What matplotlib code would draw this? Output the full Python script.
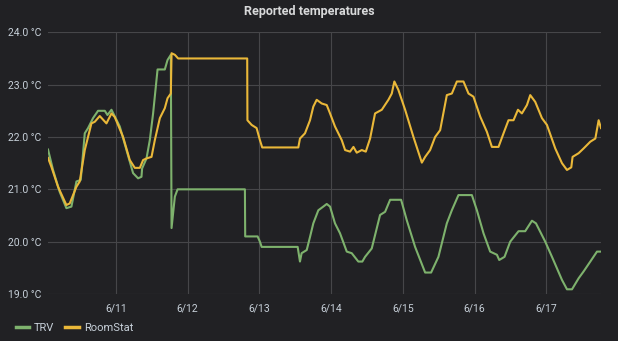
import numpy as np
import matplotlib
matplotlib.use('Agg')
import matplotlib.pyplot as plt

# time in days of June, temperatures in degC
trv_t = [10.056, 10.126, 10.219, 10.312, 10.382, 10.452, 10.512, 10.568, 10.614, 10.683,
         10.753, 10.847, 10.884, 10.940, 11.056, 11.149, 11.241, 11.311, 11.358, 11.367,
         11.428, 11.474, 11.520, 11.582, 11.683, 11.721, 11.767, 11.777, 11.823, 11.861,
         12.799, 12.803, 12.976, 13.008, 13.032, 13.534, 13.566, 13.589, 13.660, 13.706,
         13.752, 13.822, 13.891, 13.939, 13.985, 14.054, 14.124, 14.218, 14.287, 14.379,
         14.435, 14.473, 14.566, 14.682, 14.752, 14.822, 14.975, 15.054, 15.170, 15.310,
         15.393, 15.495, 15.612, 15.682, 15.774, 15.961, 16.031, 16.123, 16.216, 16.310,
         16.342, 16.416, 16.495, 16.611, 16.704, 16.798, 16.854, 16.983, 17.077, 17.216,
         17.286, 17.356, 17.448, 17.517, 17.611, 17.704, 17.760]
trv_v = [21.76, 21.37, 20.95, 20.64, 20.67, 21.15, 21.18, 22.07, 22.17, 22.36,
         22.50, 22.50, 22.42, 22.52, 22.20, 21.75, 21.31, 21.21, 21.24, 21.40,
         21.59, 21.94, 22.45, 23.29, 23.29, 23.47, 23.57, 20.26, 20.86, 21.0,
         21.0, 20.1, 20.1, 20.0, 19.9, 19.9, 19.62, 19.78, 19.84, 20.09,
         20.35, 20.60, 20.67, 20.72, 20.67, 20.35, 20.16, 19.81, 19.78, 19.62,
         19.62, 19.71, 19.87, 20.51, 20.57, 20.80, 20.80, 20.41, 19.90, 19.41,
         19.41, 19.71, 20.35, 20.60, 20.89, 20.89, 20.60, 20.16, 19.81, 19.75,
         19.65, 19.71, 20.0, 20.20, 20.20, 20.40, 20.35, 20.0, 19.71, 19.27,
         19.09, 19.09, 19.30, 19.43, 19.62, 19.81, 19.81]

room_t = [10.056, 10.103, 10.195, 10.312, 10.358, 10.452, 10.498, 10.568, 10.661, 10.707,
          10.777, 10.870, 10.940, 10.986, 11.102, 11.195, 11.265, 11.335, 11.381, 11.428,
          11.498, 11.544, 11.614, 11.683, 11.721, 11.767, 11.777, 11.823, 11.869, 12.831,
          12.834, 12.893, 12.962, 13.008, 13.040, 13.543, 13.566, 13.636, 13.706, 13.752,
          13.799, 13.869, 13.939, 13.985, 14.054, 14.148, 14.195, 14.264, 14.311, 14.357,
          14.427, 14.483, 14.543, 14.612, 14.706, 14.798, 14.845, 14.881, 14.937, 15.031,
          15.147, 15.264, 15.310, 15.379, 15.449, 15.519, 15.612, 15.682, 15.752, 15.844,
          15.914, 15.983, 16.077, 16.170, 16.240, 16.332, 16.402, 16.471, 16.541, 16.603,
          16.658, 16.728, 16.774, 16.844, 16.937, 17.007, 17.123, 17.216, 17.286, 17.346,
          17.364, 17.448, 17.517, 17.611, 17.681, 17.727, 17.760]
room_v = [21.6, 21.43, 21.05, 20.70, 20.73, 21.05, 21.15, 21.75, 22.26, 22.29,
          22.40, 22.26, 22.45, 22.38, 22.0, 21.56, 21.41, 21.41, 21.56, 21.59,
          21.62, 21.94, 22.36, 22.55, 22.74, 22.83, 23.60, 23.57, 23.50, 23.50,
          22.32, 22.23, 22.17, 21.94, 21.80, 21.80, 21.97, 22.07, 22.32, 22.58,
          22.71, 22.64, 22.61, 22.45, 22.20, 21.94, 21.75, 21.72, 21.81, 21.70,
          21.75, 21.72, 21.97, 22.45, 22.52, 22.71, 22.83, 23.06, 22.90, 22.52,
          22.0, 21.51, 21.62, 21.75, 22.0, 22.13, 22.80, 22.83, 23.06, 23.06,
          22.83, 22.77, 22.39, 22.10, 21.81, 21.81, 22.07, 22.32, 22.32, 22.52,
          22.45, 22.61, 22.80, 22.67, 22.36, 22.23, 21.78, 21.50, 21.37, 21.42,
          21.62, 21.69, 21.78, 21.91, 21.97, 22.32, 22.17]

day_ticks = [11, 12, 13, 14, 15, 16, 17]
day_labels = ['6/11', '6/12', '6/13', '6/14', '6/15', '6/16', '6/17']
temp_ticks = [19, 20, 21, 22, 23, 24]

bg = '#212124'
txt = '#c7d0d9'
plt.rcParams['font.family'] = ['Roboto', 'DejaVu Sans']

fig = plt.figure(figsize=(6.18, 3.41), dpi=100, facecolor=bg)
ax = fig.add_axes([0.0777, 0.1378, 0.8948, 0.7675], facecolor=bg)

ax.plot(trv_t, trv_v, color='#7eb26d', lw=1.5, label='TRV')
ax.plot(room_t, room_v, color='#eab839', lw=1.5, label='RoomStat')

ax.set_xlim(10.056, 17.76)
ax.set_ylim(19, 24)
ax.set_xticks(day_ticks)
ax.set_xticklabels(day_labels)
ax.set_yticks(temp_ticks)
ax.set_yticklabels([f'{v:.1f} °C' for v in temp_ticks])
ax.tick_params(length=0, colors=txt, labelsize=7.5)
ax.tick_params(axis='x', pad=7)
ax.tick_params(axis='y', pad=5)
for s in ax.spines.values():
    s.set_visible(False)
ax.grid(True, color='#464649', lw=0.8)
ax.set_axisbelow(True)

fig.text(0.5, 0.965, 'Reported temperatures', ha='center', va='center',
         color='#d8d9da', fontsize=9, fontweight='bold')

leg = fig.legend(loc='center left', bbox_to_anchor=(0.018, 0.038), ncol=2,
                 frameon=False, fontsize=8, handlelength=1.2, handletextpad=0.45,
                 columnspacing=1.0, borderaxespad=0)
for line in leg.get_lines():
    line.set_linewidth(2.5)
for t in leg.get_texts():
    t.set_color(txt)

fig.savefig('out.png', dpi=100, facecolor=bg)
